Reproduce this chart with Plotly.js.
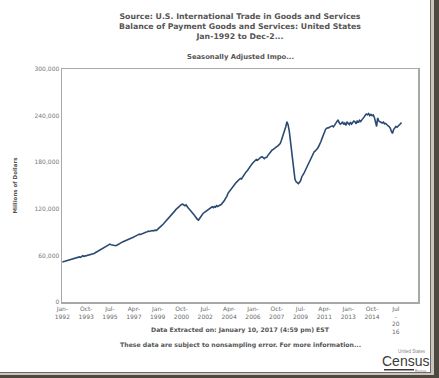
<!DOCTYPE html>
<html>
<head>
<meta charset="utf-8">
<script src="https://cdn.plot.ly/plotly-3.0.1.min.js"></script>
<style>
  html, body { margin: 0; padding: 0; background: #ffffff; }
  #chart { width: 439px; height: 378px; }
</style>
</head>
<body>
<div id="chart"></div>
<script>
// Monthly imports (millions of dollars, seasonally adjusted), Jan-1992 .. Dec-2016
const startYear = 1992;
const v1992 = [51500, 52000, 52500, 53000, 53300, 54000, 54200, 54800, 55000, 55500, 56200, 56000];
const v1993 = [56500, 57200, 57800, 58000, 57500, 58300, 59500, 58800, 59200, 59000, 59800, 60500];
const v1994 = [60200, 60800, 61000, 61500, 62500, 63400, 64200, 65000, 66000, 66800, 67600, 68500];
const v1995 = [69500, 70400, 71500, 72300, 73200, 74000, 74500, 73800, 73200, 72800, 72500, 72400];
const v1996 = [73000, 74200, 75000, 75800, 76500, 77200, 77800, 78500, 79600, 79200, 80000, 80800];
const v1997 = [81500, 82300, 83000, 83800, 84500, 85200, 86000, 86800, 87400, 87000, 87800, 88500];
const v1998 = [88800, 89500, 90000, 90400, 91300, 90800, 91500, 92000, 91600, 92200, 92500, 92300];
const v1999 = [93500, 94500, 96000, 97500, 99000, 100500, 102000, 103800, 105500, 107000, 108500, 109700];
const v2000 = [111500, 113500, 115500, 117000, 119000, 120500, 122000, 123500, 124500, 125700, 126000, 125000];
const v2001 = [124000, 125000, 122500, 121000, 119500, 118000, 116500, 114000, 112500, 110500, 108000, 106500];
const v2002 = [105500, 108000, 110500, 112000, 114000, 115000, 116000, 117500, 118000, 119500, 120000, 121500];
const v2003 = [122600, 121500, 123000, 122000, 124000, 123000, 124500, 124800, 125500, 127000, 129000, 131000];
const v2004 = [134000, 136000, 140000, 142000, 144500, 147000, 149000, 150600, 152000, 153500, 155000, 157000];
const v2005 = [158000, 159000, 158500, 161000, 163500, 165000, 167500, 169000, 171500, 174000, 176000, 177500];
const v2006 = [179400, 180500, 182000, 183500, 182500, 184000, 185500, 186500, 187000, 185000, 184500, 186000];
const v2007 = [186000, 188500, 190500, 192000, 194000, 195800, 196500, 198000, 199000, 200000, 201000, 202000];
const v2008 = [204000, 208000, 212000, 217000, 221000, 226000, 232000, 228000, 220000, 208000, 192000, 178000];
const v2009 = [165000, 158000, 155000, 153000, 152500, 154000, 156000, 161000, 163000, 166000, 169000, 172000];
const v2010 = [175000, 178500, 183000, 185500, 188000, 191000, 193500, 194500, 196000, 198000, 200500, 203000];
const v2011 = [207000, 211000, 215000, 219000, 222000, 223800, 224000, 224500, 225500, 226000, 226800, 225500];
const v2012 = [228000, 230500, 232000, 234500, 231000, 229000, 230000, 232000, 228500, 230500, 227500, 231500];
const v2013 = [230000, 228500, 231500, 229000, 231000, 233000, 232000, 229500, 233500, 231000, 234000, 232500];
const v2014 = [234500, 236000, 238000, 240500, 242000, 241000, 242500, 240000, 241500, 240000, 241000, 238000];
const v2015 = [232000, 226000, 237000, 233000, 232000, 231000, 230500, 231500, 229500, 230000, 228000, 227000];
const v2016 = [226000, 224000, 220000, 217000, 222000, 225000, 226000, 225000, 227000, 228000, 229500, 231000];

const yearly = [v1992, v1993, v1994, v1995, v1996, v1997, v1998, v1999, v2000, v2001, v2002, v2003,
  v2004, v2005, v2006, v2007, v2008, v2009, v2010, v2011, v2012, v2013, v2014, v2015, v2016];

const tickDates = ['1992-01-01', '1993-10-01', '1995-07-01', '1997-04-01', '1999-01-01', '2000-10-01',
  '2002-07-01', '2004-04-01', '2006-01-01', '2007-10-01', '2009-07-01', '2011-04-01', '2013-01-01',
  '2014-10-01', '2016-07-01'];
const tickLabels = ['Jan-<br>1992', 'Oct-<br>1993', 'Jul-<br>1995', 'Apr-<br>1997', 'Jan-<br>1999',
  'Oct-<br>2000', 'Jul-<br>2002', 'Apr-<br>2004', 'Jan-<br>2006', 'Oct-<br>2007', 'Jul-<br>2009',
  'Apr-<br>2011', 'Jan-<br>2013', 'Oct-<br>2014', 'Jul<br>-<br>20<br>16'];
const yTicks = [0, 60000, 120000, 180000, 240000, 300000];

const titleLines = ['Source: U.S. International Trade in Goods and Services',
  'Balance of Payment Goods and Services: United States', 'Jan-1992 to Dec-2...'];
const subTitle = 'Seasonally Adjusted Impo...';
const yTitle = 'Millions of Dollars';
const footer1 = 'Data Extracted on: January 10, 2017 (4:59 pm) EST';
const footer2 = 'These data are subject to nonsampling error. For more information...';

const xs = [], ys = [];
yearly.forEach((arr, yi) => {
  arr.forEach((val, mi) => {
    const y = startYear + yi;
    const m = String(mi + 1).padStart(2, '0');
    xs.push(y + '-' + m + '-01');
    ys.push(val);
  });
});

// plot area in px
const W = 439, H = 378;
const L = 62, R = 21, T = 69, B = 76;
const pw = W - L - R, ph = H - T - B;
const px = x => (x - L) / pw;
const py = y => (H - B - y) / ph;

const font = 'DejaVu Sans, Verdana, sans-serif';

const annotations = [
  { text: '<b>' + titleLines.join('<br>') + '</b>', x: 0.5, y: py(10), xref: 'paper', yref: 'paper',
    xanchor: 'center', yanchor: 'top', showarrow: false, align: 'center',
    font: { family: font, size: 7.8, color: '#555555' } },
  { text: '<b>' + subTitle + '</b>', x: 0.5, y: py(57), xref: 'paper', yref: 'paper',
    xanchor: 'center', yanchor: 'middle', showarrow: false,
    font: { family: font, size: 6.8, color: '#555555' } },
  { text: '<b>' + footer1 + '</b>', x: 0.5, y: py(330), xref: 'paper', yref: 'paper',
    xanchor: 'center', yanchor: 'middle', showarrow: false,
    font: { family: font, size: 6.2, color: '#555555' } },
  { text: '<b>' + footer2 + '</b>', x: 0.5, y: py(345), xref: 'paper', yref: 'paper',
    xanchor: 'center', yanchor: 'middle', showarrow: false,
    font: { family: font, size: 6.2, color: '#555555' } },
  { text: 'United States', x: px(428), y: py(351), xref: 'paper', yref: 'paper',
    xanchor: 'right', yanchor: 'middle', showarrow: false,
    font: { family: 'Liberation Sans, Arial, sans-serif', size: 4.5, color: '#888888' } },
  { text: 'Census', x: px(405), y: py(360.5), xref: 'paper', yref: 'paper',
    xanchor: 'center', yanchor: 'middle', showarrow: false,
    font: { family: 'Liberation Sans, Arial, sans-serif', size: 14, color: '#3a3a3a' } },
  { text: 'Bureau', x: px(428), y: py(371), xref: 'paper', yref: 'paper',
    xanchor: 'right', yanchor: 'middle', showarrow: false,
    font: { family: 'Liberation Sans, Arial, sans-serif', size: 3.5, color: '#888888' } }
];

const shapes = [
  // census underline bar
  { type: 'rect', xref: 'paper', yref: 'paper', x0: px(384), x1: px(414), y0: py(370.5), y1: py(369),
    fillcolor: '#3a3a3a', line: { width: 0 } },
  // frame: right
  { type: 'rect', xref: 'paper', yref: 'paper', x0: px(430), x1: px(431), y0: py(373), y1: py(0),
    fillcolor: '#6e6a62', line: { width: 0 } },
  { type: 'rect', xref: 'paper', yref: 'paper', x0: px(431), x1: px(434), y0: py(373), y1: py(0),
    fillcolor: '#c9c5bc', line: { width: 0 } },
  { type: 'rect', xref: 'paper', yref: 'paper', x0: px(434), x1: px(439), y0: py(378), y1: py(0),
    fillcolor: '#4d4840', line: { width: 0 } },
  // frame: bottom
  { type: 'rect', xref: 'paper', yref: 'paper', x0: px(0), x1: px(431), y0: py(373), y1: py(372),
    fillcolor: '#6e6a62', line: { width: 0 } },
  { type: 'rect', xref: 'paper', yref: 'paper', x0: px(0), x1: px(434), y0: py(375), y1: py(373),
    fillcolor: '#c9c5bc', line: { width: 0 } },
  { type: 'rect', xref: 'paper', yref: 'paper', x0: px(0), x1: px(439), y0: py(378), y1: py(375),
    fillcolor: '#4d4840', line: { width: 0 } }
];

const trace = {
  x: xs, y: ys, type: 'scatter', mode: 'lines',
  line: { color: '#2b4a72', width: 1.6 }, hoverinfo: 'skip'
};

const layout = {
  width: W, height: H,
  margin: { l: L, r: R, t: T, b: B, pad: 0 },
  paper_bgcolor: '#ffffff', plot_bgcolor: '#ffffff',
  showlegend: false,
  xaxis: {
    type: 'date', range: ['1991-12-22', '2018-02-15'],
    tickmode: 'array', tickvals: tickDates, ticktext: tickLabels,
    showgrid: false, zeroline: false, showline: true, mirror: true,
    linecolor: '#a8a8a8', linewidth: 1.5, ticks: '',
    tickangle: 0,
    tickfont: { family: font, size: 6, color: '#6a6a6a' }
  },
  yaxis: {
    range: [0, 300000], tickmode: 'array', tickvals: yTicks, tickformat: ',d',
    showgrid: false, zeroline: false, showline: true, mirror: true,
    linecolor: '#a8a8a8', linewidth: 1.5, ticks: '',
    tickfont: { family: font, size: 6, color: '#777777' },
    title: { text: '<b>' + yTitle + '</b>', standoff: 16,
      font: { family: font, size: 5.5, color: '#555555' } }
  },
  annotations: annotations,
  shapes: shapes
};

Plotly.newPlot('chart', [trace], layout, { staticPlot: true, displayModeBar: false });
</script>
</body>
</html>
